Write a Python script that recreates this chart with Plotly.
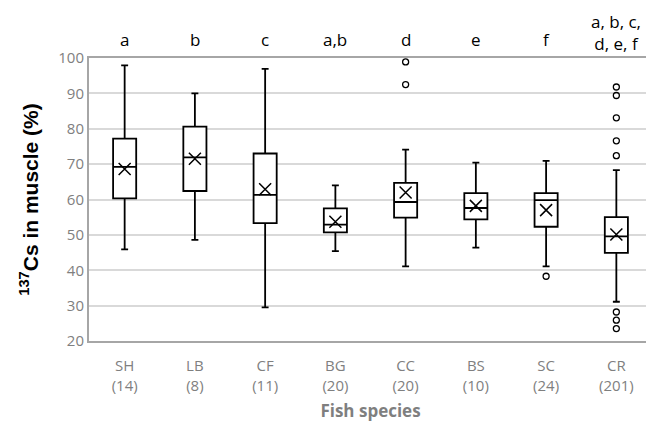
import plotly.graph_objects as go

species = ["SH", "LB", "CF", "BG", "CC", "BS", "SC", "CR"]
counts = [14, 8, 11, 20, 20, 10, 24, 201]
letters = ["a", "b", "c", "a,b", "d", "e", "f", "a, b, c,<br>d, e, f"]

upper_whisker = [97.9, 90.0, 96.9, 64.0, 74.1, 70.4, 70.9, 68.3]
q3 = [77.2, 80.6, 73.0, 57.5, 64.7, 61.8, 61.8, 55.0]
median = [69.2, 71.9, 61.3, 52.9, 59.3, 57.6, 59.8, 49.6]
q1 = [60.3, 62.4, 53.3, 50.7, 54.9, 54.4, 52.3, 44.9]
lower_whisker = [45.9, 48.6, 29.5, 45.4, 41.1, 46.4, 41.1, 31.1]
mean = [68.6, 71.5, 62.9, 53.7, 62.0, 58.2, 57.0, 50.1]

outlier_species = ["CC", "CC", "SC", "CR", "CR", "CR", "CR", "CR", "CR", "CR", "CR"]
outlier_values = [98.9, 92.5, 38.3, 91.8, 89.4, 83.1, 76.6, 72.4, 28.2, 25.9, 23.5]

tick_text = [f"{s}<br>({n})" for s, n in zip(species, counts)]

fig = go.Figure()
fig.add_trace(go.Box(
    x=species, q1=q1, median=median, q3=q3,
    lowerfence=lower_whisker, upperfence=upper_whisker,
    fillcolor="white", line=dict(color="black", width=1.8),
    whiskerwidth=0.3, boxpoints=False, showlegend=False,
))
fig.add_trace(go.Scatter(
    x=species, y=mean, mode="markers", showlegend=False,
    marker=dict(symbol="x-thin-open", size=12, color="black",
                line=dict(color="black", width=1.5)),
))
fig.add_trace(go.Scatter(
    x=outlier_species, y=outlier_values, mode="markers", showlegend=False,
    marker=dict(symbol="circle-open", size=6, color="black",
                line=dict(color="black", width=1.3)),
))

for s, t in zip(species, letters):
    two = "<br>" in t
    fig.add_annotation(x=s, xref="x", yref="paper", y=1.09 if two else 1.064,
                       text=t, showarrow=False, yanchor="middle",
                       font=dict(family="Open Sans", size=17, color="black"))

fig.update_layout(
    width=646, height=424,
    margin=dict(l=81, r=2, t=50, b=91),
    paper_bgcolor="white", plot_bgcolor="white",
    boxgap=0.53,
    font=dict(family="Open Sans", color="#7f7f7f"),
)
fig.update_xaxes(
    type="category", categoryorder="array", categoryarray=species,
    tickvals=species, ticktext=tick_text, automargin=False,
    tickfont=dict(family="Open Sans", size=15, color="#7f7f7f"),
    showline=True, mirror=True, linecolor="#a6a6a6", linewidth=2,
    showgrid=False, ticks="outside", ticklen=10, tickcolor="rgba(0,0,0,0)",
    title=dict(text="<b>Fish species</b>", standoff=12,
               font=dict(family="Open Sans", size=17, color="#7f7f7f")),
)
fig.update_yaxes(
    range=[20, 100], tickvals=[20, 30, 40, 50, 60, 70, 80, 90, 100],
    tickfont=dict(family="Open Sans", size=15, color="#7f7f7f"),
    showline=True, mirror=True, linecolor="#a6a6a6", linewidth=2,
    showgrid=True, gridcolor="#d9d9d9", gridwidth=1.5, zeroline=False,
    ticks="", automargin=False,
    title=dict(text="<b><sup>137</sup>Cs in muscle (%)</b>", standoff=14,
               font=dict(family="Arial", size=21, color="black")),
)

fig.write_html("out.html")
